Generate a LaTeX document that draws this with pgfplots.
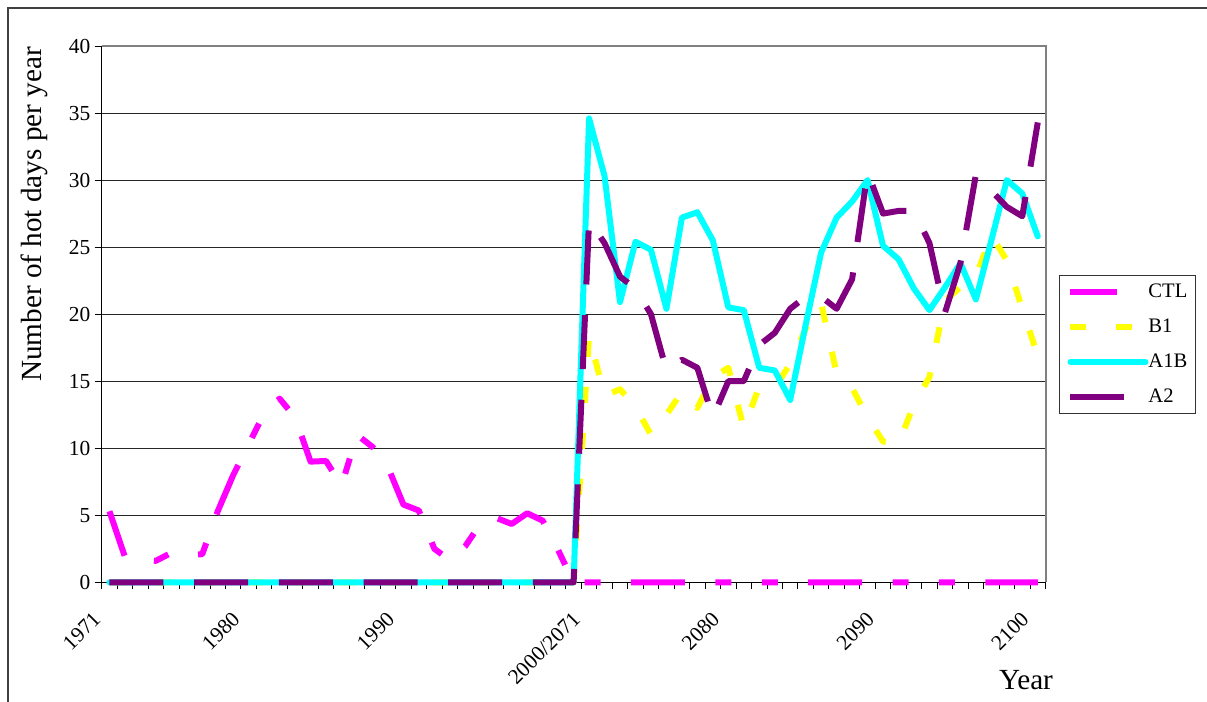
\documentclass[border=0pt]{standalone}
\usepackage{fontspec}
\setmainfont{Liberation Serif}
\usepackage{pgfplots}
\pgfplotsset{compat=1.18}
\definecolor{cCTL}{RGB}{255,0,255}
\definecolor{cB1}{RGB}{255,255,0}
\definecolor{cA1B}{RGB}{0,255,255}
\definecolor{cA2}{RGB}{128,0,128}
\begin{document}
\begin{tikzpicture}
\useasboundingbox (0pt,0pt) rectangle (603.5pt,351pt);
\draw[line width=0.6pt, black!75] (4pt,0pt) -- (4pt,347pt) -- (603.5pt,347pt);
\begin{axis}[
  at={(50.85pt,59.85pt)}, anchor=south west,
  scale only axis, width=471.9pt, height=268.15pt,
  xmin=-0.5, xmax=60.5, ymin=0, ymax=40,
  clip=false,
  axis line style={draw=none},
  xtick pos=bottom, ytick pos=left,
  ytick={0,5,...,40},
  ymajorgrids,
  major grid style={black!85, line width=0.5pt},
  tick align=outside,
  tick style={black, line width=0.5pt},
  major tick length=3.5pt,
  xtick={-0.5,0.5,...,60.5},
  xticklabels={},
  extra x ticks={0,9,19,31,40,50,60},
  extra x tick labels={1971,1980,1990,2000/2071,2080,2090,2100},
  extra x tick style={major tick length=0pt, grid=none,
    xticklabel style={xshift=-3.5pt, yshift=-19.35pt, rotate=45, anchor=south east, inner sep=0pt}},
  ticklabel style={font=\fontsize{10.7}{12}\selectfont},
  yticklabel style={inner sep=0pt, xshift=-2pt},
  /pgf/number format/assume math mode=true,
  ylabel={Number of hot days per year},
  ylabel style={at={(axis description cs:-0.071,0.6860)}, anchor=center, font=\fontsize{14.6}{16}\selectfont},
  xlabel={Year},
  xlabel style={at={(axis description cs:0.9794,-0.1822)}, anchor=center, font=\fontsize{14.6}{16}\selectfont},
  legend style={at={(axis description cs:1.0143,0.573)}, anchor=north west,
    draw=black!80, line width=0.5pt, inner xsep=4pt, inner ysep=3.75pt,
    font=\fontsize{10.3}{12}\selectfont, row sep=8.5pt, column sep=0pt,
    nodes={inner sep=0pt, text height=7pt, text depth=2pt}},
  legend cell align=left,
  legend image code/.code={\draw[#1] (0pt,0pt) -- (37.5pt,0pt);},
]
\draw[black!50, line width=1pt] (rel axis cs:0,1) -- (rel axis cs:1,1) -- (rel axis cs:1,0);
\draw[black, line width=0.75pt] (rel axis cs:0,1) -- (rel axis cs:0,0) -- (rel axis cs:1,0);
% CTL
\addplot[cCTL, line width=3pt, line join=round, dash pattern=on 27pt off 15.2pt on 8pt off 15.2pt on 8pt off 15.2pt, dash phase=3.5pt] coordinates {
(0,5.3) (1,1.9) (2,1.7) (3,1.6) (4,2.2) (5,2.0) (6,2.1) (7,5.3) (8,8.0) (9,10.3)
(10,12.6) (11,13.7) (12,12.3) (13,9.0) (14,9.05) (15,7.2) (16,11.0) (17,10.1) (18,8.6) (19,5.8)
(20,5.35) (21,2.5) (22,1.65) (23,2.7) (24,4.4) (25,4.8) (26,4.35) (27,5.15) (28,4.6) (29,2.4)
(30,0) (31,0) (32,0) (33,0) (34,0) (35,0) (36,0) (37,0) (38,0) (39,0)
(40,0) (41,0) (42,0) (43,0) (44,0) (45,0) (46,0) (47,0) (48,0) (49,0)
(50,0) (51,0) (52,0) (53,0) (54,0) (55,0) (56,0) (57,0) (58,0) (59,0) (60,0)};
\addlegendentry{CTL}
% B1
\addplot[cB1, line width=3pt, line join=round, dash pattern=on 8pt off 15pt] coordinates {
(0,0) (1,0) (2,0) (3,0) (4,0) (5,0) (6,0) (7,0) (8,0) (9,0)
(10,0) (11,0) (12,0) (13,0) (14,0) (15,0) (16,0) (17,0) (18,0) (19,0)
(20,0) (21,0) (22,0) (23,0) (24,0) (25,0) (26,0) (27,0) (28,0) (29,0) (30,0)
(31,18.4) (32,13.9) (33,14.4) (34,13.1) (35,11.0) (36,12.5) (37,14.2) (38,13.0) (39,15.3) (40,16.0)
(41,11.5) (42,14.6) (43,14.5) (44,16.3) (45,18.9) (46,20.8) (47,15.6) (48,14.5) (49,12.3) (50,10.5)
(51,10.3) (52,13.3) (53,15.3) (54,21.0) (55,22.0) (56,22.8) (57,25.9) (58,24.0) (59,20.4) (60,16.9)};
\addlegendentry{B1}
% A1B
\addplot[cA1B, line width=3pt, line join=round, line cap=round] coordinates {
(0,0) (1,0) (2,0) (3,0) (4,0) (5,0) (6,0) (7,0) (8,0) (9,0)
(10,0) (11,0) (12,0) (13,0) (14,0) (15,0) (16,0) (17,0) (18,0) (19,0)
(20,0) (21,0) (22,0) (23,0) (24,0) (25,0) (26,0) (27,0) (28,0) (29,0) (30,0)
(31,34.6) (32,30.3) (33,20.9) (34,25.4) (35,24.8) (36,20.4) (37,27.2) (38,27.6) (39,25.5) (40,20.5)
(41,20.3) (42,16.0) (43,15.8) (44,13.6) (45,19.2) (46,24.6) (47,27.2) (48,28.4) (49,30.0) (50,25.1)
(51,24.1) (52,21.9) (53,20.3) (54,22.0) (55,23.8) (56,21.1) (57,25.5) (58,30.0) (59,29.0) (60,25.8)};
\addlegendentry{A1B}
% A2
\addplot[cA2, line width=3pt, line join=round, dash pattern=on 27pt off 15.35pt] coordinates {
(0,0) (1,0) (2,0) (3,0) (4,0) (5,0) (6,0) (7,0) (8,0) (9,0)
(10,0) (11,0) (12,0) (13,0) (14,0) (15,0) (16,0) (17,0) (18,0) (19,0)
(20,0) (21,0) (22,0) (23,0) (24,0) (25,0) (26,0) (27,0) (28,0) (29,0) (30,0)
(31,27.0) (32,25.3) (33,22.8) (34,21.9) (35,20.0) (36,15.8) (37,16.6) (38,16.0) (39,12.3) (40,15.0)
(41,15.0) (42,17.7) (43,18.6) (44,20.4) (45,21.3) (46,21.3) (47,20.4) (48,22.6) (49,30.6) (50,27.5)
(51,27.7) (52,27.7) (53,25.3) (54,20.1) (55,23.8) (56,30.4) (57,29.2) (58,28.0) (59,27.3) (60,34.3)};
\addlegendentry{A2}
\end{axis}
\end{tikzpicture}
\end{document}
